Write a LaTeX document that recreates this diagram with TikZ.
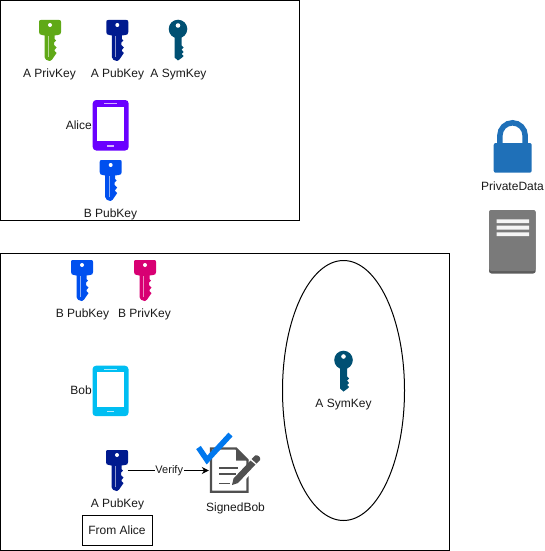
\documentclass[tikz,border=0pt]{standalone}
\usepackage{fontspec}
\setmainfont{Liberation Sans}
\usetikzlibrary{arrows.meta}
\definecolor{kgreen}{HTML}{60A917}
\definecolor{knavy}{HTML}{001A8F}
\definecolor{kblue}{HTML}{0050EF}
\definecolor{kmag}{HTML}{D80073}
\definecolor{ksym}{HTML}{005073}
\definecolor{kpurple}{HTML}{6A00FF}
\definecolor{kcyan}{HTML}{00BEF2}
\definecolor{klock}{HTML}{1F70B8}
\definecolor{kserver}{HTML}{7A7A7A}
\definecolor{kserverd}{HTML}{5C5C5C}
\definecolor{kcheck}{HTML}{0078EE}
\definecolor{kdoc}{HTML}{505050}
\tikzset{
  lab/.style={font=\fontsize{12}{14}\selectfont,inner sep=0pt,text=black!90},
  frame/.style={draw=black,line width=1pt,outer sep=0pt},
  flatkey/.pic={
    \path[pic actions] (2,0) -- (20,0) .. controls (21.5,0) and (22,.5) .. (22,2) -- (22,12)
      .. controls (22,14) and (21,15) .. (19,15) -- (15.5,15.5) -- (15.5,19) -- (17,20.5) -- (15,22.5) -- (15,25) -- (17.5,27.5) -- (15.5,30) -- (15.5,31)-- (17.5,33) -- (15.5,36)
      .. controls (14.5,39) and (11.5,41) .. (10.5,41) .. controls (8,41) and (5.5,39) .. (5.5,37) -- (5.5,15.5) -- (3,15)
      .. controls (1,15) and (0,14) .. (0,12) -- (0,2) .. controls (0,.5) and (.5,0) .. (2,0) -- cycle;
    \fill[white] (11,5) circle (2);
    \fill[white,opacity=.55] (8.8,16) rectangle (10,37);
  },
  roundkey/.pic={
    \path[pic actions] (0,-9.5) circle (9.3);
    \path[pic actions] (-3.5,-2) -- (3.5,-2) -- (3.5,7) -- (5.5,9) -- (3.5,11) -- (5.5,13.5) -- (3.5,15.5) -- (5.5,17.5) -- (3.5,19.5) -- (3.5,19.5) -- (0,22) -- (-3.5,19) -- cycle;
    \fill[white] (0,-13) circle (2.3);
  },
  phone/.pic={
    \path[pic actions,rounded corners=3.5pt] (0,0) rectangle (36,50.5);
    \fill[white] (4.5,6.5) rectangle (31.5,41);
    \fill[white,opacity=.7] (11.5,3) rectangle (24.5,4);
    \fill[white,opacity=.7] (14.5,45) rectangle (21.5,46.5);
  },
}
\begin{document}
\begin{tikzpicture}[x=1pt,y=-1pt]
\useasboundingbox (0,0) rectangle (544,551);
% frames
\node[frame,minimum width=299pt,minimum height=220pt,inner sep=0pt,anchor=north west] (alicebox) at (0.5,0.5) {};
\node[frame,minimum width=449pt,minimum height=297pt,inner sep=0pt,anchor=north west] (bobbox) at (0.5,253.5) {};
\draw[line width=1pt] (343.5,390.5) ellipse (61 and 130);
% keys
\pic[fill=kgreen] at (39,20) {flatkey};
\pic[fill=knavy] at (106.3,20) {flatkey};
\pic[fill=ksym] at (178,38.5) {roundkey};
\pic[fill=kblue] at (99.7,160) {flatkey};
\pic[fill=kblue] at (71,260) {flatkey};
\pic[fill=kmag] at (134,260) {flatkey};
\pic[fill=knavy] at (106,450) {flatkey};
\pic[fill=ksym] at (343.5,369.5) {roundkey};
% phones
\pic[fill=kpurple] at (92.7,100) {phone};
\pic[fill=kcyan] at (92.5,365.7) {phone};
% lock
\fill[klock,rounded corners=2pt] (493.7,143) rectangle (531.7,172.7);
\draw[klock,line width=5.5pt] (499.8,146) -- (499.8,135.8) arc[start angle=180,end angle=360,x radius=12.7,y radius=13] -- (525.2,146);
% server
\fill[kserverd,rounded corners=2.5pt] (489,210) rectangle (535.7,273.5);
\fill[kserver,rounded corners=2.5pt] (489,210) rectangle (535.7,271);
\fill[white!92!gray] (496.7,219.3) rectangle (529,223) (496.7,225.7) rectangle (529,229.7) (496.7,232.3) rectangle (529,236);
% document
\draw[kdoc,line width=2.2pt,line join=miter] (211,448.5) -- (236,448.5) -- (247.5,460) -- (247.5,491.8) -- (211,491.8) -- cycle;
\fill[kdoc] (236,447.5) -- (248.5,460.5) -- (236,460.5) -- cycle;
\draw[kdoc,line width=1.8pt] (219,468) -- (238,468) (219,474) -- (236,474) (219,483.5) -- (230,483.5);
\fill[white] (229,486) -- (256,455) -- (263,460) -- (236,490) -- cycle;
\fill[kdoc] (232,485) -- (233.5,478.5) -- (250.5,460.5) -- (255.5,464.5) -- (238,483) -- cycle;
\fill[kdoc] (251.5,459) -- (255,455.5) .. controls (258,454.5) and (261,457) .. (260,460) -- (256.5,463.5) -- cycle;
% check
\draw[kcheck,line width=5.6pt,line join=miter] (198.5,447.5) -- (207,460) -- (230.5,434.5);
% labels
\node[lab] (l1) at (49.5,74.5) {A PrivKey};
\node[lab] (l2) at (117.5,74.5) {A PubKey};
\node[lab] (l3) at (178.5,74.5) {A SymKey};
\node[lab,anchor=east] (l4) at (92,125.5) {Alice};
\node[lab] (l5) at (110.5,214.5) {B PubKey};
\node[lab] (l6) at (512.5,186.5) {PrivateData};
\node[lab] (l7) at (82.5,314.5) {B PubKey};
\node[lab] (l8) at (144.5,314.5) {B PrivKey};
\node[lab,anchor=east] (l9) at (92,390.5) {Bob};
\node[lab] (l10) at (117.5,504.5) {A PubKey};
\node[lab] (l11) at (235.5,508.5) {SignedBob};
\node[lab] (l12) at (343.5,404.5) {A SymKey};
\node[lab,draw=black,line width=1pt,outer sep=0pt,minimum width=70pt,minimum height=30pt] (from) at (117,530.5) {From Alice};
% connector
\node[inner sep=0pt,minimum width=1pt,minimum height=1pt] (pubkey) at (127,470.5) {};
\node[inner sep=0pt,minimum width=1pt,minimum height=1pt] (signed) at (209.5,470.5) {};
\draw[-{Stealth[length=7pt,width=7pt]},line width=1pt] (pubkey) -- (signed)
  node[midway,xshift=1pt,lab,fill=white,font=\fontsize{11}{13}\selectfont,inner xsep=0.5pt] (verify) {Verify};
\end{tikzpicture}
\end{document}
